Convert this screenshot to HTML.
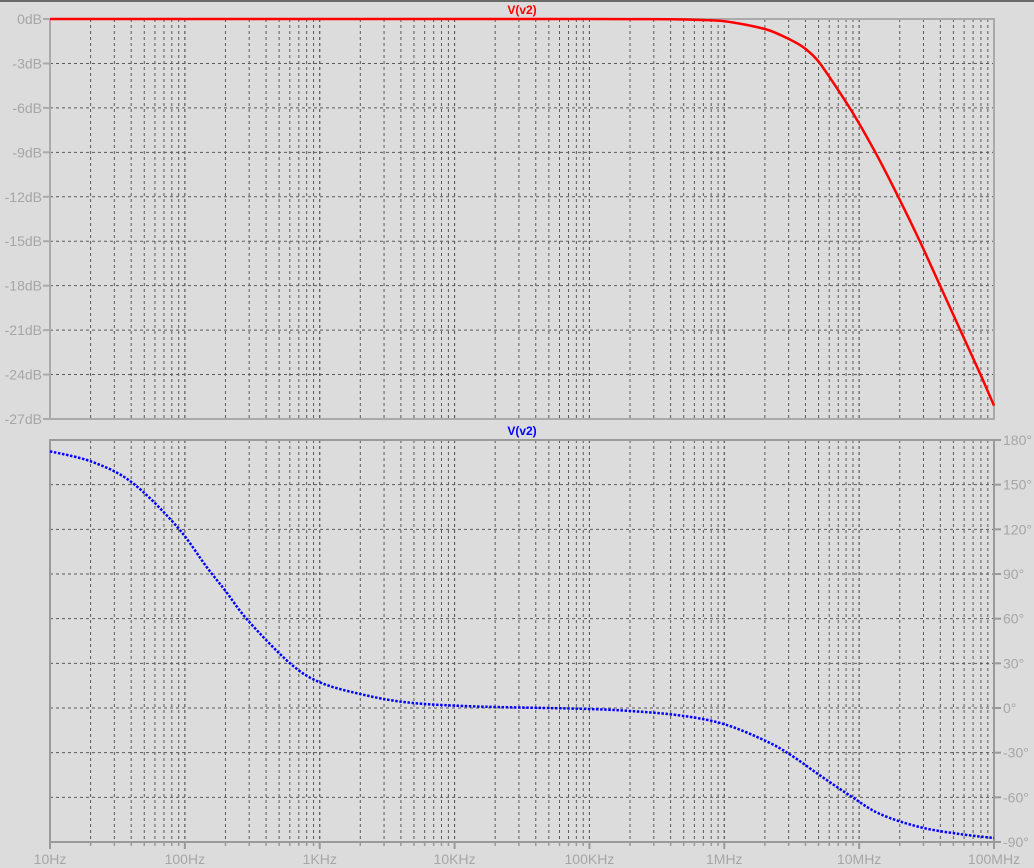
<!DOCTYPE html>
<html><head><meta charset="utf-8"><style>
html,body{margin:0;padding:0;background:#dcdcdc;}
svg{display:block;font-family:"Liberation Sans",sans-serif;}
</style></head><body>
<svg id="chart" width="1034" height="868" xmlns="http://www.w3.org/2000/svg">
<rect x="0" y="0" width="1034" height="868" fill="#dcdcdc"/>
<rect x="0" y="0" width="1034" height="2" fill="#6a6a6a"/>
<g id="layer"></g>
</svg>
<script>
// data
const freqTickLabels = ["10Hz","100Hz","1KHz","10KHz","100KHz","1MHz","10MHz","100MHz"];
const dbTicks = [0,-3,-6,-9,-12,-15,-18,-21,-24,-27];
const degTicks = [180,150,120,90,60,30,0,-30,-60,-90];
const magLogF = [1,2,3,4,5,5.3,5.62,6.0,6.31,6.49,6.60,6.71,6.93,7.12,7.29,7.45,7.60,7.75,7.90,8.0];
const magDb   = [0,0,0,0,0,-0.01,-0.02,-0.15,-0.7,-1.4,-2.0,-3.0,-6.0,-9.0,-12.0,-15.0,-18.0,-21.0,-24.0,-26.1];
const phLogF = [1,1.31,1.606,1.94,2.16,2.30,2.47,2.78,3.0,3.30,3.645,4.14,4.93,5.30,5.67,5.99,6.30,6.49,6.71,6.93,7.15,7.45,7.75,8.0];
const phDeg  = [172.4,165.4,151.6,122,94.9,78.8,58.6,30,17.3,9.4,3.8,1.1,-0.5,-2,-5,-10.6,-21.8,-31.4,-45.3,-58.7,-71,-80,-84.7,-87.3];

const NS="http://www.w3.org/2000/svg";
const layer=document.getElementById('layer');
const X0=50,X1=994;
const xs=lf=>X0+(lf-1)/7*(X1-X0);
const T={y0:19,y1:419,min:-27,max:0};
const B={y0:440,y1:842,min:-90,max:180};
const ysT=v=>T.y0+(T.max-v)/(T.max-T.min)*(T.y1-T.y0);
const ysB=v=>B.y0+(B.max-v)/(B.max-B.min)*(B.y1-B.y0);
function mk(tag,attrs,parent){const e=document.createElementNS(NS,tag);for(const k in attrs)e.setAttribute(k,attrs[k]);(parent||layer).appendChild(e);return e;}

function grid(P,ys,ticks,name){
  const g=mk('g',{});
  
  
  for(let d=1;d<8;d++)for(let m=1;m<=10;m++){
    if(d===1&&m===1)continue; if(d===7&&m===10)continue;
    const x=xs(d+Math.log10(m));
    const l=mk('line',{x1:x,x2:x,y1:P.y0,y2:P.y1,stroke:'#5a5a5a','stroke-width':1,'stroke-dasharray':'3 3'},g);
    
    
  }
  ticks.forEach(t=>{ if(t===P.max||t===P.min)return;
    const y=ys(t);
    const l=mk('line',{x1:X0,x2:X1,y1:y,y2:y,stroke:'#5a5a5a','stroke-width':1,'stroke-dasharray':'3 3'},g);
    
    
  });
}
grid(T,ysT,dbTicks,'magnitude');
grid(B,ysB,degTicks,'phase');

const f1=mk('rect',{x:X0,y:T.y0,width:X1-X0,height:T.y1-T.y0,fill:'none',stroke:'#aaaaaa','stroke-width':2});


const f2=mk('rect',{x:X0,y:B.y0,width:X1-X0,height:B.y1-B.y0,fill:'none',stroke:'#9a9a9a','stroke-width':2});



dbTicks.forEach(t=>{const y=ysT(t);
  mk('line',{x1:X0-7,x2:X0,y1:y,y2:y,stroke:'#aaaaaa','stroke-width':2});
  const tx=mk('text',{x:X0-8,y:y+5,'text-anchor':'end','font-size':14,fill:'#a6a6a6'});
  tx.textContent=t+'dB';
  
  
});
degTicks.forEach(t=>{const y=ysB(t);
  mk('line',{x1:X1,x2:X1+7,y1:y,y2:y,stroke:'#9a9a9a','stroke-width':2});
  const tx=mk('text',{x:X1+9,y:y+5,'text-anchor':'start','font-size':14,fill:'#a6a6a6'});
  tx.textContent=t+'°';
  
  
});
for(let d=1;d<=8;d++)for(let m=1;m<=9;m++){
  if(d===8&&m>1)break;
  const x=xs(d+Math.log10(m));
  mk('line',{x1:x,x2:x,y1:B.y1,y2:B.y1+(m===1?7:4),stroke:'#9a9a9a','stroke-width':m===1?2:1.5});
}
freqTickLabels.forEach((s,i)=>{
  const tx=mk('text',{x:xs(i+1),y:864,'text-anchor':'middle','font-size':14,fill:'#a6a6a6'});
  tx.textContent=s;
  
  
});

function smoothPath(px,py,k){
  let d='M'+px[0]+','+py[0];
  for(let i=0;i<px.length-1;i++){
    const p0=i>0?i-1:i,p3=i+2<px.length?i+2:i+1;
    const c1x=px[i]+(px[i+1]-px[p0])/k,c1y=py[i]+(py[i+1]-py[p0])/k;
    const c2x=px[i+1]-(px[p3]-px[i])/k,c2y=py[i+1]-(py[p3]-py[i])/k;
    d+=' C'+c1x+','+c1y+' '+c2x+','+c2y+' '+px[i+1]+','+py[i+1];
  }
  return d;
}
const mp=mk('path',{d:smoothPath(magLogF.map(xs),magDb.map(ysT),8),fill:'none',stroke:'#ff0000','stroke-width':2.5});


const pp=mk('path',{d:smoothPath(phLogF.map(xs),phDeg.map(ysB),6),fill:'none',stroke:'#0000ff','stroke-width':2.5,'stroke-dasharray':'2.5 1.6'});



const t1=mk('text',{x:522,y:14,'text-anchor':'middle','font-size':12,'font-weight':'bold',fill:'#ff0000'});
t1.textContent='V(v2)';


const t2=mk('text',{x:522,y:435,'text-anchor':'middle','font-size':12,'font-weight':'bold',fill:'#0000ff'});
t2.textContent='V(v2)';


</script>
</body></html>
